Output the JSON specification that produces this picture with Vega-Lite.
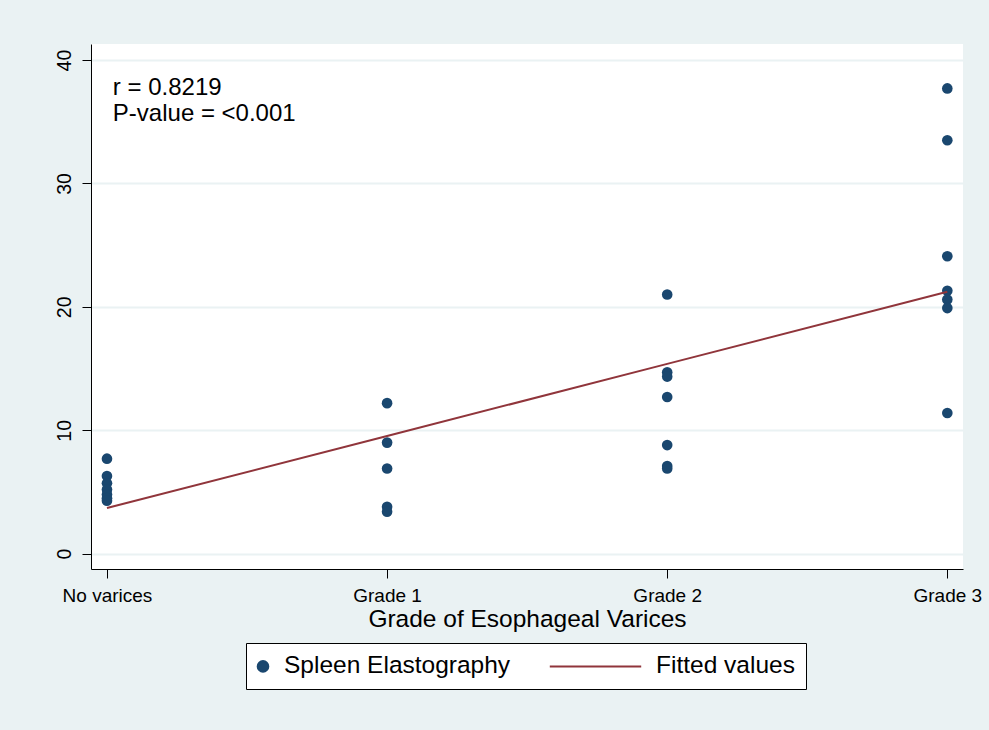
{
  "$schema": "https://vega.github.io/schema/vega-lite/v6.json",
  "width": 872,
  "height": 525,
  "autosize": {"type": "none"},
  "padding": {"left": 91, "top": 44, "right": 26, "bottom": 161},
  "background": "#EAF2F3",
  "config": {
    "view": {"stroke": null, "fill": "white"},
    "font": "Liberation Sans"
  },
  "datasets": {
    "spleen": [
      {"grade": 0, "value": 7.7, "series": "Spleen Elastography"},
      {"grade": 0, "value": 6.3, "series": "Spleen Elastography"},
      {"grade": 0, "value": 5.7, "series": "Spleen Elastography"},
      {"grade": 0, "value": 5.2, "series": "Spleen Elastography"},
      {"grade": 0, "value": 4.8, "series": "Spleen Elastography"},
      {"grade": 0, "value": 4.5, "series": "Spleen Elastography"},
      {"grade": 0, "value": 4.3, "series": "Spleen Elastography"},
      {"grade": 1, "value": 12.2, "series": "Spleen Elastography"},
      {"grade": 1, "value": 9.0, "series": "Spleen Elastography"},
      {"grade": 1, "value": 6.9, "series": "Spleen Elastography"},
      {"grade": 1, "value": 3.8, "series": "Spleen Elastography"},
      {"grade": 1, "value": 3.4, "series": "Spleen Elastography"},
      {"grade": 2, "value": 21.0, "series": "Spleen Elastography"},
      {"grade": 2, "value": 14.7, "series": "Spleen Elastography"},
      {"grade": 2, "value": 14.35, "series": "Spleen Elastography"},
      {"grade": 2, "value": 12.7, "series": "Spleen Elastography"},
      {"grade": 2, "value": 8.8, "series": "Spleen Elastography"},
      {"grade": 2, "value": 7.1, "series": "Spleen Elastography"},
      {"grade": 2, "value": 6.9, "series": "Spleen Elastography"},
      {"grade": 3, "value": 37.7, "series": "Spleen Elastography"},
      {"grade": 3, "value": 33.5, "series": "Spleen Elastography"},
      {"grade": 3, "value": 24.1, "series": "Spleen Elastography"},
      {"grade": 3, "value": 21.3, "series": "Spleen Elastography"},
      {"grade": 3, "value": 20.6, "series": "Spleen Elastography"},
      {"grade": 3, "value": 19.9, "series": "Spleen Elastography"},
      {"grade": 3, "value": 11.4, "series": "Spleen Elastography"}
    ],
    "fitted": [
      {"grade": 0, "fitted": 3.70, "series": "Fitted values"},
      {"grade": 1, "fitted": 9.54, "series": "Fitted values"},
      {"grade": 2, "fitted": 15.38, "series": "Fitted values"},
      {"grade": 3, "fitted": 21.22, "series": "Fitted values"}
    ]
  },
  "encoding": {
    "x": {
      "type": "quantitative",
      "scale": {"domain": [-0.057, 3.056], "nice": false, "zero": false},
      "axis": {
        "values": [0, 1, 2, 3],
        "labelExpr": "['No varices','Grade 1','Grade 2','Grade 3'][datum.value]",
        "grid": false,
        "tickSize": 9,
        "domainColor": "black",
        "tickColor": "black",
        "labelColor": "black",
        "labelFontSize": 19,
        "labelPadding": 8,
        "labelFlush": false,
        "labelOverlap": false,
        "title": "Grade of Esophageal Varices",
        "titleFontSize": 24.5,
        "titleFontWeight": "normal",
        "titleColor": "black",
        "titleBaseline": "alphabetic",
        "titleY": 57
      }
    },
    "y": {
      "type": "quantitative",
      "scale": {"domain": [-1.24, 41.3], "nice": false, "zero": false},
      "axis": {
        "values": [0, 10, 20, 30, 40],
        "labelAngle": -90,
        "labelAlign": "center",
        "labelBaseline": "alphabetic",
        "labelPadding": 12,
        "tickSize": 9,
        "grid": true,
        "gridColor": "#EAF2F3",
        "gridWidth": 2,
        "domainColor": "black",
        "tickColor": "black",
        "labelColor": "black",
        "labelFontSize": 19.5,
        "title": null
      }
    },
    "color": {
      "field": "series",
      "type": "nominal",
      "scale": {"domain": ["Spleen Elastography", "Fitted values"], "range": ["#1A476F", "#90353B"]},
      "legend": {
        "title": null,
        "orient": "none",
        "legendX": 155,
        "legendY": 599,
        "direction": "horizontal",
        "columns": 2,
        "columnPadding": 34,
        "padding": 11,
        "fillColor": "white",
        "strokeColor": "black",
        "labelFontSize": 24.5,
        "labelColor": "black",
        "labelLimit": 400,
        "symbolSize": 113,
        "encode": {
          "symbols": {
            "update": {
              "shape": {"signal": "datum.value === 'Fitted values' ? 'M-8.6,0H8.6' : 'circle'"},
              "fill": {"signal": "datum.value === 'Fitted values' ? 'transparent' : '#1A476F'"},
              "stroke": {"signal": "datum.value === 'Fitted values' ? '#90353B' : 'transparent'"},
              "strokeWidth": {"value": 2},
              "x": {"signal": "datum.value === 'Fitted values' ? 45.5 : 6"},
              "opacity": {"value": 1}
            }
          },
          "labels": {
            "update": {
              "x": {"signal": "datum.value === 'Fitted values' ? 106 : 27"}
            }
          }
        }
      }
    }
  },
  "layer": [
    {
      "data": {"name": "spleen"},
      "mark": {"type": "point", "filled": true, "size": 113, "opacity": 1},
      "encoding": {
        "x": {"field": "grade", "type": "quantitative"},
        "y": {"field": "value", "type": "quantitative"}
      }
    },
    {
      "data": {"name": "fitted"},
      "mark": {"type": "line", "strokeWidth": 2},
      "encoding": {
        "x": {"field": "grade", "type": "quantitative"},
        "y": {"field": "fitted", "type": "quantitative"}
      }
    },
    {
      "data": {"values": [{"line1": "r = 0.8219", "line2": "P-value = <0.001"}]},
      "mark": {"type": "text", "align": "left", "baseline": "alphabetic", "fontSize": 24, "lineHeight": 26},
      "encoding": {
        "x": {"datum": 0.021, "type": "quantitative"},
        "y": {"datum": 37.17, "type": "quantitative"},
        "color": {"value": "black"},
        "text": {"value": ["r = 0.8219", "P-value = <0.001"]}
      }
    }
  ]
}
